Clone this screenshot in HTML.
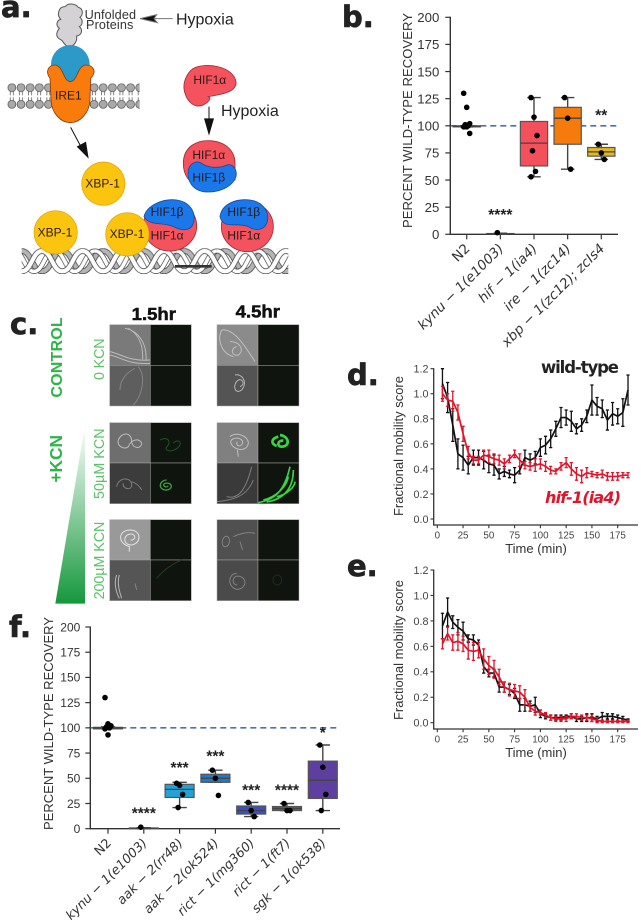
<!DOCTYPE html>
<html lang="en">
<head>
<meta charset="utf-8">
<title>Multi-panel figure</title>
<style>
html,body{margin:0;padding:0;background:#fff;}
svg{display:block;font-family:"Liberation Sans",sans-serif;}
.letter{font-family:"DejaVu Sans",sans-serif;font-weight:bold;font-size:29px;fill:#222;stroke:#222;stroke-width:.7px;}
.lbl{font-size:36px;fill:#2a1a1a;}
.w{fill:none;stroke:#c9c9c9;stroke-width:3;opacity:.85;}
.wd{fill:none;stroke:#8e8e8e;stroke-width:3;opacity:.8;}
.g{fill:none;stroke:#2a6a2c;stroke-width:3;opacity:.7;}
.cell{stroke:#a8a8a8;stroke-width:1.5;}
.dark{fill:#10140f;}
.gt{fill:#5cc268;font-size:43px;}
</style>
</head>
<body>
<svg xmlns="http://www.w3.org/2000/svg" width="641" height="920" viewBox="0 0 641 920">
<defs>
<pattern id="lipid" x="22" y="250" width="27.4" height="80" patternUnits="userSpaceOnUse">
<path d="M9,24V36M9,42V54M18,24V36M18,42V54" stroke="#444" stroke-width="2" fill="none"/>
<circle cx="13.7" cy="13" r="12" fill="#a9a9a9" stroke="#444" stroke-width="2"/>
<circle cx="13.7" cy="63" r="12" fill="#a9a9a9" stroke="#444" stroke-width="2"/>
</pattern>
<pattern id="dna" x="65" y="745" width="122" height="77" patternUnits="userSpaceOnUse">
<g fill="none" stroke-linecap="butt">
<path d="M0,8C30,8 32,69 61,69C90,69 92,8 122,8" stroke="#333" stroke-width="17"/>
<path d="M0,8C30,8 32,69 61,69C90,69 92,8 122,8" stroke="#b4b4b4" stroke-width="13"/>
<path d="M-24,8C6,8 8,69 37,69C66,69 68,8 98,8" stroke="#333" stroke-width="15"/>
<path d="M-24,8C6,8 8,69 37,69C66,69 68,8 98,8" stroke="#fff" stroke-width="11"/>
<path d="M98,8C128,8 130,69 159,69" stroke="#333" stroke-width="15"/>
<path d="M98,8C128,8 130,69 159,69" stroke="#fff" stroke-width="11"/>
<path d="M0,69C30,69 32,8 61,8C90,8 92,69 122,69" stroke="#333" stroke-width="17"/>
<path d="M0,69C30,69 32,8 61,8C90,8 92,69 122,69" stroke="#fff" stroke-width="13"/>
</g>
</pattern>
<linearGradient id="wedge" x1="0" y1="0" x2="0" y2="1">
<stop offset="0" stop-color="#fff"/>
<stop offset="1" stop-color="#15983c"/>
</linearGradient>
</defs>

<!-- Panel a -->
<g transform="scale(0.33333)">
<rect x="22" y="250" width="397" height="78" fill="url(#lipid)"/>
<rect x="65" y="745" width="800" height="77" fill="url(#dna)"/>
<rect x="525" y="795" width="110" height="8" fill="#333"/>
<path d="M205,140C190,135 190,120 180,118C165,110 170,95 178,85C165,75 172,60 182,58C170,45 175,20 195,20C205,8 225,10 235,22C250,25 250,45 240,52C250,60 248,75 238,80C250,90 245,105 230,108C232,125 222,140 205,140Z" fill="#d4d2d4" stroke="#555" stroke-width="3"/>
<text x="254" y="57" font-size="38" fill="#333" textLength="154">Unfolded</text>
<text x="258" y="87" font-size="38" fill="#333" textLength="142">Proteins</text>
<text x="528" y="73" font-size="48" fill="#222">Hypoxia</text>
<path d="M420,56L470,44L462,56L472,68ZM462,56H518" fill="#111" stroke="#777" stroke-width="3"/>
<ellipse cx="211" cy="193" rx="58" ry="58" fill="#2b9ac9"/>
<path d="M150,235C135,215 145,195 165,195C190,197 190,245 211,245C232,245 232,197 257,195C280,195 292,215 272,235L270,300C268,340 240,368 211,368C182,368 155,340 153,300Z" fill="#f97b0c" stroke="#8a3a10" stroke-width="2.5"/>
<text x="165" y="298" class="lbl">IRE1</text>
<path d="M212,382L248,450" stroke="#111" stroke-width="3" fill="none"/>
<path d="M266,476L230,440L258,425Z" fill="#111"/>

<path d="M580,205C620,185 700,200 708,245C712,280 650,285 625,290C640,295 615,320 590,318C560,310 545,270 555,240C560,225 570,212 580,205Z" fill="#f4525c" stroke="#a02a38" stroke-width="2.5"/>
<text x="580" y="252" class="lbl">HIF1α</text>
<text x="663" y="348" font-size="48" fill="#222">Hypoxia</text>
<path d="M627,320V360" stroke="#111" stroke-width="3"/>
<path d="M612,355L642,355L627,407Z" fill="#111"/>

<path d="M550,490C550,440 590,420 630,422C680,425 705,455 705,490L705,540L600,560C570,550 550,530 550,490Z" fill="#f4525c" stroke="#a02a38" stroke-width="2.5"/>
<path d="M565,510C570,490 590,480 605,490C625,505 660,505 680,495C700,490 712,510 708,530C695,565 650,580 610,575C580,570 560,545 565,510Z" fill="#1a78ea" stroke="#0f4fa0" stroke-width="2.5"/>
<text x="577" y="477" class="lbl">HIF1α</text>
<text x="577" y="545" class="lbl" fill="#0c2c5c">HIF1β</text>

<ellipse cx="510" cy="678" rx="80" ry="75" fill="#f4525c" stroke="#a02a38" stroke-width="2.5"/>
<path d="M432,650C440,615 490,595 530,600C575,605 595,650 575,680C560,695 540,690 520,680C490,665 450,680 432,650Z" fill="#1a78ea" stroke="#0f4fa0" stroke-width="2.5"/>
<text x="452" y="648" class="lbl">HIF1β</text>
<text x="452" y="718" class="lbl">HIF1α</text>

<ellipse cx="742" cy="680" rx="78" ry="75" fill="#f4525c" stroke="#a02a38" stroke-width="2.5"/>
<path d="M660,650C665,610 710,595 750,600C790,605 812,640 800,670C790,695 760,690 745,680C710,665 670,690 660,650Z" fill="#1a78ea" stroke="#0f4fa0" stroke-width="2.5"/>
<text x="682" y="648" class="lbl">HIF1β</text>
<text x="682" y="718" class="lbl">HIF1α</text>

<circle cx="310" cy="551" r="65" fill="#fbc40f" stroke="#d8a30a" stroke-width="2"/>
<circle cx="167" cy="697" r="65" fill="#fbc40f" stroke="#d8a30a" stroke-width="2"/>
<circle cx="382" cy="703" r="65" fill="#fbc40f" stroke="#d8a30a" stroke-width="2"/>
<text x="256" y="563" class="lbl">XBP-1</text>
<text x="113" y="710" class="lbl">XBP-1</text>
<text x="329" y="714" class="lbl">XBP-1</text>
</g>

<text class="letter" x="1" y="17">a.</text>
<text class="letter" x="342" y="27">b.</text>
<text class="letter" x="10" y="334">c.</text>
<text class="letter" x="347" y="385">d.</text>
<text class="letter" x="347" y="576">e.</text>
<text class="letter" x="9" y="637">f.</text>

<!-- Panel c -->
<g transform="translate(0,300) scale(0.33333)">
<text x="395" y="60" font-size="52" font-weight="bold" fill="#111" stroke="#111" stroke-width="1.5" textLength="133" lengthAdjust="spacingAndGlyphs">1.5hr</text>
<text x="707" y="52" font-size="52" font-weight="bold" fill="#111" stroke="#111" stroke-width="1.5" textLength="133" lengthAdjust="spacingAndGlyphs">4.5hr</text>
<text transform="translate(186,293) rotate(-90)" font-size="48" font-weight="bold" fill="#2fb34a" textLength="241">CONTROL</text>
<text transform="translate(186,548) rotate(-90)" font-size="52" font-weight="bold" fill="#2fb34a" textLength="143">+KCN</text>
<text class="gt" transform="translate(312,240) rotate(-90)" textLength="125">0 KCN</text>
<text class="gt" transform="translate(312,597) rotate(-90)" textLength="212">50µM KCN</text>
<text class="gt" transform="translate(312,898) rotate(-90)" textLength="233">200µM KCN</text>
<path d="M255,375L255,911L166,911Z" fill="url(#wedge)"/>

<g>
<rect class="cell" x="329" y="74" width="122" height="122" fill="#7a7a7a"/><rect class="cell" x="329" y="196" width="122" height="122" fill="#5e5e5e"/>
<rect class="cell dark" x="451" y="74" width="123" height="122"/><rect class="cell dark" x="451" y="196" width="123" height="122"/>
<path class="w" d="M375,85C410,90 442,125 438,182M385,85C412,100 430,130 428,178M329,155C360,160 385,185 450,180M329,165C360,170 385,195 450,190"/>
<path class="wd" d="M415,200C440,230 425,290 400,315M405,205C385,215 360,235 360,270"/>
</g>
<g>
<rect class="cell" x="651" y="74" width="123" height="122" fill="#8b8b8b"/><rect class="cell" x="651" y="196" width="123" height="122" fill="#545454"/>
<rect class="cell dark" x="774" y="74" width="123" height="122"/><rect class="cell dark" x="774" y="196" width="123" height="122"/>
<path class="w" d="M665,90C650,120 665,160 700,170M665,90C700,85 730,130 765,185M690,125C720,125 735,150 715,165C695,170 690,145 710,140"/>
<path class="w" d="M705,225C725,220 745,245 725,270C705,285 695,255 715,240C730,235 735,255 720,260"/>
</g>
<g>
<rect class="cell" x="329" y="368" width="122" height="121" fill="#6e6e6e"/><rect class="cell" x="329" y="489" width="122" height="122" fill="#3c3c3c"/>
<rect class="cell dark" x="451" y="368" width="123" height="121"/><rect class="cell dark" x="451" y="489" width="123" height="122"/>
<path class="w" d="M355,420C365,395 395,395 395,425C400,450 425,445 425,430C420,415 395,415 385,440C375,450 350,440 355,420Z"/>
<path class="wd" d="M350,560C355,530 395,530 395,555C395,575 365,565 370,550M395,545C410,550 420,560 425,570"/>
<path class="g" d="M480,420C505,405 515,430 500,440C490,455 525,460 540,435C545,420 525,420 520,430"/>
<path d="M500,540C480,540 472,565 495,570C520,572 520,545 495,550C485,555 495,565 505,558" fill="none" stroke="#3d9d3f" stroke-width="4"/>
</g>
<g>
<rect class="cell" x="651" y="368" width="123" height="121" fill="#808080"/><rect class="cell" x="651" y="489" width="123" height="122" fill="#3a3a3a"/>
<rect class="cell dark" x="774" y="368" width="123" height="121"/><rect class="cell dark" x="774" y="489" width="123" height="122"/>
<path class="w" d="M690,410C705,395 745,405 745,430C740,460 695,450 692,425C695,410 730,410 728,430C720,445 705,435 712,425M712,450L715,470"/>
<path class="wd" d="M680,590C720,600 740,560 755,500M651,605C700,600 740,590 760,540"/>
<path d="M835,410C815,415 810,430 830,438M840,405C870,410 870,440 845,440C830,440 832,420 850,422" fill="none" stroke="#39d445" stroke-width="8"/>
<path d="M775,608C810,600 850,590 870,500M800,606C840,600 880,575 880,510M790,600C830,590 860,560 865,530M830,590C860,585 885,560 885,545" fill="none" stroke="#39d445" stroke-width="5"/>
</g>
<g>
<rect class="cell" x="329" y="659" width="122" height="121" fill="#999"/><rect class="cell" x="329" y="780" width="122" height="122" fill="#555"/>
<rect class="cell dark" x="451" y="659" width="123" height="121"/><rect class="cell dark" x="451" y="780" width="123" height="122"/>
<path d="M390,740C350,730 355,690 390,690C425,690 425,730 395,735C365,735 370,700 395,702C410,705 405,722 392,720M388,740V755" fill="none" stroke="#e4e4e4" stroke-width="3"/>
<path class="w" d="M350,825C340,850 350,880 358,895M358,825C350,850 360,880 365,895"/>
<path class="wd" d="M405,850L410,870"/>
<path d="M470,835C490,810 520,790 545,780" fill="none" stroke="#1f3d20" stroke-width="3"/>
</g>
<g>
<rect class="cell" x="651" y="659" width="123" height="121" fill="#505050"/><rect class="cell" x="651" y="780" width="123" height="122" fill="#4a4a4a"/>
<rect class="cell dark" x="774" y="659" width="123" height="121"/><rect class="cell dark" x="774" y="780" width="123" height="122"/>
<path class="wd" d="M670,715C680,700 695,715 685,735C670,750 662,730 670,715M700,710C720,700 745,695 765,700"/>
<path class="wd" d="M720,725L728,750"/>
<path class="wd" d="M710,820C685,820 680,860 710,868C740,868 745,830 712,828C695,830 695,855 712,855"/>
<path d="M830,825C850,825 850,855 830,855C815,850 815,830 830,825" fill="none" stroke="#1b2e1c" stroke-width="3"/>
</g>
</g>

<g id="chart-b"></g>
<g id="chart-f"></g>
<g id="chart-d"></g>
<g id="chart-e"></g>
</svg>

<script>
// ---- Panel b data ----
const bCategories = ["N2","kynu − 1(e1003)","hif − 1(ia4)","ire − 1(zc14)","xbp − 1(zc12); zcIs4"];
const bWhiskerLow = [99,0,53,60,69];
const bQ1 = [99,0.3,63,83,72];
const bMedian = [99.5,0.5,84,107,76];
const bQ3 = [100,0.7,104,117,80];
const bWhiskerHigh = [100,1,126,126,83];
const bPoints = [[130,117,102,101,100,99,99,93],[1.5],[126,108,91,77,58,53],[126,107,60],[83,75,69]];
const bStars = ["","****","","","**"];
const bStarValues = [0,13,0,0,105];
const bFills = ["none","none","#f4505c","#f57c0c","#e3b81c"];
const recoveryTicks = [0,25,50,75,100,125,150,175,200];

// ---- Panel f data ----
const fCategories = ["N2","kynu − 1(e1003)","aak − 2(rr48)","aak − 2(ok524)","rict − 1(mg360)","rict − 1(ft7)","sgk − 1(ok538)"];
const fWhiskerLow = [99,0,21,46,12,18,18];
const fQ1 = [99,0.3,31,46,14.5,18,30];
const fMedian = [100,0.5,39,50,18,20,48];
const fQ3 = [100.5,0.7,44,54,22.5,22,67];
const fWhiskerHigh = [101,1,46,58,26,25,83];
const fPoints = [[130,104,102,101,100,99,93],[1.5],[45,43,34,21],[58,50,33],[26,18,12],[25,18,18],[83,61,34,18]];
const fStars = ["","****","***","***","***","****","*"];
const fStarValues = [0,10,55,66.5,33,33,90];
const fFills = ["none","none","#22a3d8","#1f78c8","#3d4fc0","#505a9a","#5d3fa0"];

// ---- Panel d data ----
const timePoints = [5,10,15,20,25,30,35,40,45,50,55,60,65,70,75,80,85,90,95,100,105,110,115,120,125,130,135,140,145,150,155,160,165,170,175,180,185];
const timeTicks = [0,25,50,75,100,125,150,175];
const mobilityTicks = [0,0.2,0.4,0.6,0.8,1.0,1.2];
const dWildType = [1.08,0.97,0.75,0.52,0.49,0.43,0.49,0.49,0.47,0.44,0.43,0.36,0.38,0.36,0.35,0.39,0.49,0.47,0.49,0.57,0.59,0.64,0.72,0.81,0.81,0.78,0.72,0.75,0.82,0.95,0.90,0.88,0.79,0.84,0.82,0.85,1.03];
const dWildTypeErr = [0.12,0.12,0.13,0.12,0.10,0.07,0.06,0.06,0.07,0.07,0.08,0.04,0.04,0.03,0.06,0.03,0.06,0.05,0.05,0.07,0.07,0.07,0.06,0.08,0.06,0.08,0.04,0.05,0.05,0.12,0.07,0.07,0.08,0.09,0.06,0.11,0.12];
const dHif = [1.00,0.95,0.94,0.85,0.68,0.53,0.47,0.47,0.51,0.50,0.48,0.47,0.44,0.48,0.52,0.47,0.43,0.42,0.43,0.44,0.42,0.39,0.38,0.42,0.45,0.40,0.36,0.34,0.37,0.36,0.35,0.36,0.34,0.34,0.34,0.35,0.35];
const dHifErr = [0.06,0.05,0.08,0.06,0.06,0.05,0.03,0.03,0.04,0.05,0.04,0.04,0.04,0.03,0.03,0.05,0.03,0.03,0.05,0.04,0.04,0.03,0.02,0.03,0.04,0.05,0.05,0.05,0.04,0.02,0.02,0.03,0.03,0.03,0.03,0.02,0.02];

// ---- Panel e data ----
const eBlack = [0.76,0.87,0.79,0.75,0.72,0.66,0.65,0.61,0.44,0.39,0.39,0.28,0.28,0.26,0.23,0.14,0.14,0.13,0.14,0.07,0.05,0.04,0.04,0.04,0.05,0.05,0.03,0.03,0.04,0.04,0.03,0.05,0.05,0.05,0.04,0.03,0.02];
const eBlackErr = [0.10,0.11,0.05,0.06,0.07,0.03,0.04,0.04,0.05,0.03,0.03,0.04,0.04,0.04,0.04,0.05,0.05,0.04,0.06,0.03,0.02,0.02,0.02,0.02,0.01,0.02,0.02,0.02,0.03,0.03,0.02,0.03,0.02,0.02,0.02,0.02,0.01];
const eRed = [0.62,0.70,0.63,0.64,0.62,0.57,0.56,0.57,0.50,0.45,0.42,0.36,0.28,0.26,0.25,0.24,0.20,0.12,0.09,0.08,0.06,0.04,0.03,0.03,0.03,0.05,0.05,0.04,0.04,0.03,0.02,0.01,0.01,0.01,0.01,0.01,0.01];
const eRedErr = [0.04,0.05,0.06,0.07,0.06,0.07,0.07,0.06,0.08,0.07,0.07,0.06,0.04,0.05,0.05,0.05,0.06,0.03,0.03,0.02,0.02,0.02,0.02,0.02,0.02,0.02,0.02,0.02,0.02,0.02,0.02,0.01,0.01,0.01,0.01,0.01,0.01];

const NS = "http://www.w3.org/2000/svg";
function make(tag, attrs, parent, text) {
  const node = document.createElementNS(NS, tag);
  for (const k in attrs) node.setAttribute(k, attrs[k]);
  if (text !== undefined) node.textContent = text;
  parent.appendChild(node);
  return node;
}

function jitter(i) { return ((i * 7) % 5 - 2) * 1.5; }

function drawRecovery(host, o) {
  const yOf = v => o.y0 + (o.y200 - o.y0) * v / 200;
  const xOf = i => o.x0 + o.step * i;
  const halfBox = o.step * 0.405;
  const halfCap = o.step * 0.2;

  const dash = make("line", {x1:o.axisX, x2:o.axisEnd, y1:yOf(100), y2:yOf(100), stroke:"#4a72b0", "stroke-width":1.6, "stroke-dasharray":"6 4"}, host);
  
  

  const yAxis = make("line", {x1:o.axisX, x2:o.axisX, y1:yOf(200)-0.5, y2:yOf(0)+0.7, stroke:"#333", "stroke-width":1.4}, host);
  
  
  const xAxis = make("line", {x1:o.axisX, x2:o.axisEnd, y1:yOf(0), y2:yOf(0), stroke:"#333", "stroke-width":1.4}, host);
  
  

  recoveryTicks.forEach(t => {
    const tick = make("line", {x1:o.axisX-5, x2:o.axisX, y1:yOf(t), y2:yOf(t), stroke:"#333", "stroke-width":1.2}, host);
    
    
    const label = make("text", {x:o.axisX-11+(o.tickNudge||0), y:yOf(t)+o.tickFont*0.36, "text-anchor":"end", "font-size":o.tickFont, fill:"#333"}, host, t);
    
    
  });

  const title = make("text", {transform:"translate("+o.titleX+","+o.titleBottom+") rotate(-90)", "font-size":o.titleFont, fill:"#333", textLength:o.titleLen}, host, "PERCENT WILD-TYPE RECOVERY");
  
  

  o.categories.forEach((cat, i) => {
    const x = xOf(i);
    const tick = make("line", {x1:x, x2:x, y1:yOf(0), y2:yOf(0)+5, stroke:"#333", "stroke-width":1.2}, host);
    
    
    const label = make("text", {transform:"translate("+(x+4)+","+(yOf(0)+15)+") rotate(-45)", "text-anchor":"end", "font-size":o.catFont, fill:"#333", "font-family":"'DejaVu Sans',sans-serif", "font-style": i === 0 ? "normal" : "italic"}, host, cat);
    
    

    const whisker = make("path", {d:"M"+x+" "+yOf(o.low[i])+"V"+yOf(o.high[i])+"M"+(x-halfCap)+" "+yOf(o.low[i])+"H"+(x+halfCap)+"M"+(x-halfCap)+" "+yOf(o.high[i])+"H"+(x+halfCap), stroke:"#444", "stroke-width":1.4, fill:"none"}, host);
    
    
    const box = make("rect", {x:x-halfBox, y:yOf(o.q3[i]), width:halfBox*2, height:yOf(o.q1[i])-yOf(o.q3[i]), fill:o.fills[i], stroke:"#555", "stroke-width":1.2}, host);
    
    
    const med = make("line", {x1:x-halfBox, x2:x+halfBox, y1:yOf(o.median[i]), y2:yOf(o.median[i]), stroke:"#444", "stroke-width":1.3}, host);
    
    

    o.points[i].forEach((v, j) => {
      const dot = make("circle", {cx:x+jitter(j), cy:yOf(v), r:2.8, fill:"#000"}, host);
      
      
    });

    if (o.stars[i]) {
      const star = make("text", {x:x, y:yOf(o.starValues[i]), "text-anchor":"middle", "font-size":15.5, "font-weight":"bold", fill:"#222"}, host, o.stars[i]);
      
      
    }
  });
}

function drawMobility(host, o) {
  const xOf = t => 437.3 + t * (617.7 - 437.3) / 175;
  const yOf = v => o.y0 + (o.y12 - o.y0) * v / 1.2;

  const yAxis = make("line", {x1:433.7, x2:433.7, y1:yOf(1.2)-0.5, y2:o.axisY, stroke:"#333", "stroke-width":1.3}, host);
  
  
  const xAxis = make("line", {x1:433, x2:638, y1:o.axisY, y2:o.axisY, stroke:"#333", "stroke-width":1.3}, host);
  
  

  mobilityTicks.forEach(t => {
    const tick = make("line", {x1:430.5, x2:433.7, y1:yOf(t), y2:yOf(t), stroke:"#333", "stroke-width":1.1}, host);
    
    
    const label = make("text", {x:428.5, y:yOf(t)+3.9, "text-anchor":"end", "font-size":10.8, fill:"#444"}, host, t.toFixed(1));
    
    
  });
  timeTicks.forEach(t => {
    const tick = make("line", {x1:xOf(t), x2:xOf(t), y1:o.axisY, y2:o.axisY+3.2, stroke:"#333", "stroke-width":1.1}, host);
    
    
    const label = make("text", {x:xOf(t), y:o.axisY+13.5, "text-anchor":"middle", "font-size":9.8, fill:"#444"}, host, t);
    
    
  });

  const xt = make("text", {x:536, y:o.axisY+28, "text-anchor":"middle", "font-size":13, fill:"#333"}, host, "Time (min)");
  
  
  const yt = make("text", {transform:"translate("+403+","+o.titleBottom+") rotate(-90)", "font-size":13, fill:"#333", textLength:140}, host, "Fractional mobility score");
  
  

  o.series.forEach(s => {
    let d = "";
    s.values.forEach((v, i) => {
      const x = xOf(timePoints[i]);
      const hi = yOf(v + s.err[i]);
      const lo = yOf(v - s.err[i]);
      const bar = make("path", {d:"M"+x+" "+lo+"V"+hi+"M"+(x-1.6)+" "+lo+"H"+(x+1.6)+"M"+(x-1.6)+" "+hi+"H"+(x+1.6), stroke:s.color, "stroke-width":1.3, fill:"none"}, host);
      
      
      d += (i ? "L" : "M") + x + " " + yOf(v);
    });
    const line = make("path", {d:d, stroke:s.color, "stroke-width":1.7, fill:"none", "stroke-linejoin":"round"}, host);
    
    
  });
}

drawRecovery(document.getElementById("chart-b"), {
  categories:bCategories, low:bWhiskerLow, q1:bQ1, median:bMedian, q3:bQ3, high:bWhiskerHigh,
  points:bPoints, stars:bStars, starValues:bStarValues, fills:bFills,
  axisX:450.3, axisEnd:618, y0:234.3, y200:17.3, x0:466.7, step:33.65,
  tickFont:13.2, catFont:13.5, titleX:412, titleBottom:228, titleFont:13.1, titleLen:215
});
drawRecovery(document.getElementById("chart-f"), {
  categories:fCategories, low:fWhiskerLow, q1:fQ1, median:fMedian, q3:fQ3, high:fWhiskerHigh,
  points:fPoints, stars:fStars, starValues:fStarValues, fills:fFills,
  axisX:90.3, axisEnd:340, y0:828.7, y200:627, x0:108, step:35.8,
  tickFont:12, catFont:12.8, titleX:53, titleBottom:830, titleFont:13, titleLen:213, tickNudge:1
});
drawMobility(document.getElementById("chart-d"), {
  y0:519, y12:368.7, axisY:525, titleBottom:516,
  series:[{values:dWildType, err:dWildTypeErr, color:"#111", name:"wild-type-line"},
          {values:dHif, err:dHifErr, color:"#e0142a", name:"hif-1-line"}]
});
drawMobility(document.getElementById("chart-e"), {
  y0:722.7, y12:570, axisY:729, titleBottom:720,
  series:[{values:eBlack, err:eBlackErr, color:"#111", name:"wild-type-line"},
          {values:eRed, err:eRedErr, color:"#e0142a", name:"hif-1-line"}]
});

const dHost = document.getElementById("chart-d");
const wtLabel = make("text", {x:541, y:373, "font-family":"DejaVu Sans, sans-serif", "font-weight":"bold", "font-size":16.5, fill:"#222", textLength:78}, dHost, "wild-type");


const hifLabel = make("text", {x:545, y:503, "font-family":"DejaVu Sans, sans-serif", "font-weight":"bold", "font-style":"italic", "font-size":16, fill:"#e0142a", textLength:76}, dHost, "hif-1(ia4)");


</script>
</body>
</html>
